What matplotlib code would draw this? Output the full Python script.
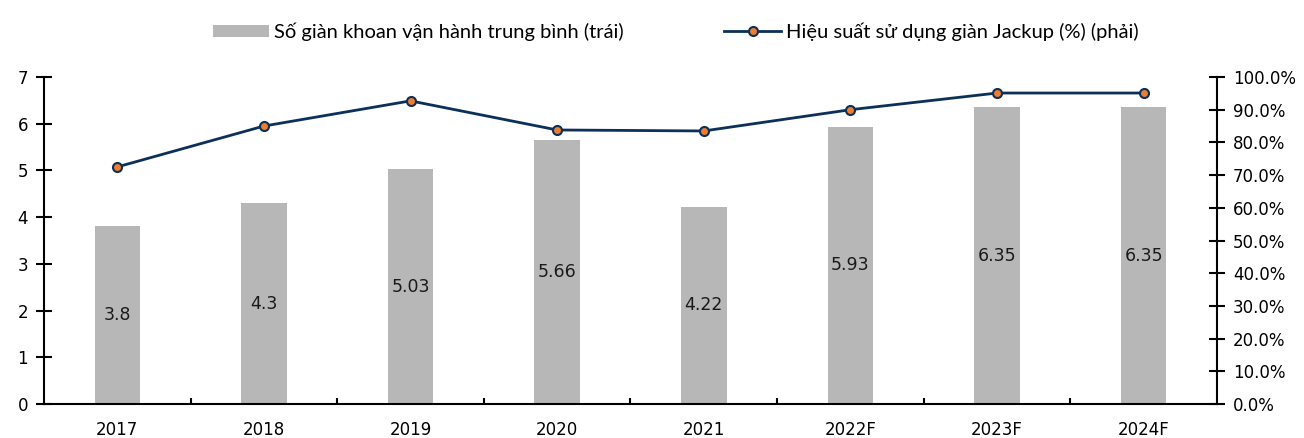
import matplotlib
matplotlib.use("Agg")
import matplotlib.pyplot as plt
from matplotlib.ticker import FuncFormatter

categories = ["2017", "2018", "2019", "2020", "2021", "2022F", "2023F", "2024F"]
rigs = [3.8, 4.3, 5.03, 5.66, 4.22, 5.93, 6.35, 6.35]
utilization = [72.5, 85.0, 92.7, 83.8, 83.5, 90.0, 95.1, 95.1]

bar_label = "Số giàn khoan vận hành trung bình (trái)"
line_label = "Hiệu suất sử dụng giàn Jackup (%) (phải)"

fig = plt.figure(figsize=(13.04, 4.38), dpi=100)
ax = fig.add_axes([0.0337, 0.0776, 0.8996, 0.7466])
ax2 = ax.twinx()

xn = range(len(categories))
bars = ax.bar(xn, rigs, width=0.31, color="#b7b7b7", zorder=2)
for i, v in enumerate(rigs):
    ax.text(i, v / 2, str(v), ha="center", va="center", fontsize=12.5, color="#1a1a1a")

line, = ax2.plot(xn, utilization, color="#0b3059", lw=2, marker="o", markersize=6.5,
                 markerfacecolor="#ed7d31", markeredgecolor="#0b3059", markeredgewidth=1.5)

ax.set_xlim(-0.5, len(categories) - 0.5)
ax.set_ylim(0, 7)
ax2.set_ylim(0, 100)
ax.set_yticks(range(8))
ax2.set_yticks(range(0, 101, 10))
ax2.yaxis.set_major_formatter(FuncFormatter(lambda v, p: "%.1f%%" % v))

ax.set_xticks(list(xn))
ax.set_xticklabels(categories)
ax.set_xticks([i + 0.5 for i in range(len(categories) - 1)], minor=True)
ax.tick_params(axis="x", which="major", length=0, pad=12, labelsize=12)
ax.tick_params(axis="x", which="minor", direction="in", length=4, width=1.5)
ax.tick_params(axis="y", direction="inout", length=11, width=1.5, labelsize=12, pad=6)
ax2.tick_params(axis="y", direction="inout", length=11, width=1.5, labelsize=12, pad=6)

for a in (ax, ax2):
    a.spines["top"].set_visible(False)
    for s in ("left", "right", "bottom"):
        a.spines[s].set_linewidth(1.5)
ax.spines["right"].set_visible(False)
ax2.spines["left"].set_visible(False)
ax2.spines["bottom"].set_visible(False)

leg = fig.legend([bars, line], [bar_label, line_label], loc="upper center",
                 bbox_to_anchor=(0.518, 0.99), ncol=2, frameon=False,
                 prop={"family": "Lato", "size": 14.5}, handlelength=2.8,
                 handleheight=0.6, columnspacing=5.0, handletextpad=0.25)

plt.savefig("out.png")
plt.close()
